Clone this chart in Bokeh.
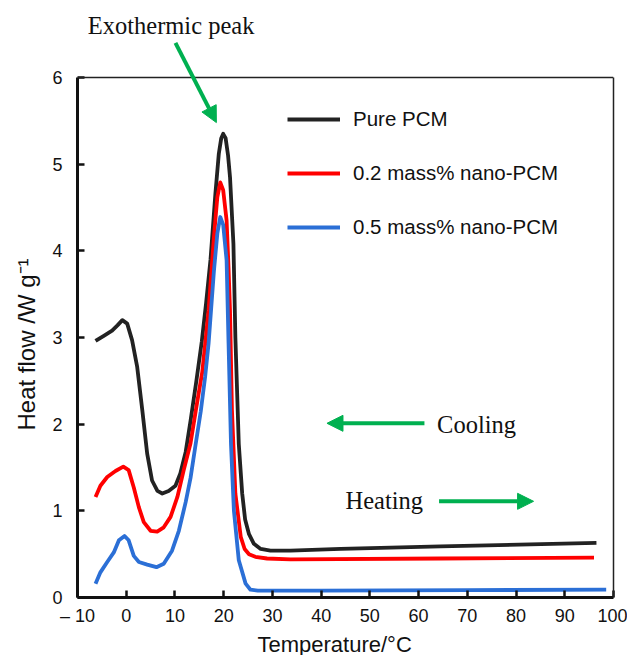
from bokeh.plotting import figure
from bokeh.models import (Range1d, FixedTicker, Legend, LegendItem, Label, Arrow, NormalHead,
                          LinearAxis, Span, Title)
from bokeh.embed import file_html
from bokeh.resources import INLINE

# ---------------- data ----------------
series_names = ["Pure PCM", "0.2 mass% nano-PCM", "0.5 mass% nano-PCM"]

pure_t = [-6.3, -4.6, -2.9, -1.8, -0.8, 0.2, 1.2, 2.25, 3.3, 4.3, 5.3, 6.4, 7.4, 8.7,
          10.1, 11.1, 12.2, 13.2, 14.4, 15.5, 16.4, 17.3, 18.3, 19.0, 19.5, 19.9, 20.4,
          20.9, 21.3, 22.0, 22.4, 23.1, 23.8, 24.4, 25.2, 26.2, 27.6, 29.6, 33.7, 44.0,
          64.5, 96.5]
pure_h = [2.96, 3.02, 3.08, 3.14, 3.20, 3.16, 2.97, 2.66, 2.16, 1.66, 1.35, 1.23, 1.20, 1.23,
          1.29, 1.43, 1.68, 2.04, 2.50, 2.95, 3.40, 3.90, 4.66, 5.12, 5.30, 5.35, 5.30,
          5.10, 4.85, 4.08, 3.00, 1.77, 1.20, 0.90, 0.73, 0.62, 0.56, 0.54, 0.54, 0.56,
          0.59, 0.63]

nano02_t = [-6.3, -5.3, -3.9, -2.2, -0.6, 0.5, 1.55, 2.6, 3.6, 5.0, 6.35, 7.7, 9.1, 10.5,
            11.8, 13.2, 14.4, 15.6, 16.9, 18.0, 18.7, 19.3, 19.9, 20.6, 21.0, 21.3, 21.7,
            22.4, 23.5, 24.3, 25.2, 26.5, 28.9, 33.7, 64.5, 96.0]
nano02_h = [1.16, 1.29, 1.39, 1.46, 1.51, 1.47, 1.27, 1.04, 0.87, 0.77, 0.76, 0.81, 0.93, 1.16,
            1.47, 1.78, 2.20, 2.60, 3.31, 4.16, 4.62, 4.79, 4.70, 4.35, 3.80, 3.31, 2.16,
            1.20, 0.70, 0.56, 0.50, 0.47, 0.45, 0.44, 0.45, 0.46]

nano05_t = [-6.3, -5.3, -3.9, -2.55, -1.5, -0.35, 0.5, 1.55, 2.6, 4.3, 6.2, 7.7, 9.4, 10.8,
            12.2, 13.2, 14.2, 15.3, 16.2, 16.9, 18.0, 18.7, 19.3, 19.9, 20.6, 21.0, 21.5,
            22.1, 23.1, 24.5, 25.5, 27.0, 40.0, 70.0, 98.5]
nano05_h = [0.16, 0.29, 0.41, 0.52, 0.66, 0.71, 0.66, 0.48, 0.41, 0.38, 0.35, 0.39, 0.54, 0.77,
            1.10, 1.38, 1.75, 2.15, 2.55, 2.93, 3.77, 4.20, 4.39, 4.30, 3.89, 2.93, 1.77,
            1.00, 0.43, 0.16, 0.09, 0.08, 0.08, 0.085, 0.09]

x_ticks = [-10, 0, 10, 20, 30, 40, 50, 60, 70, 80, 90, 100]
y_ticks = [0, 1, 2, 3, 4, 5, 6]
x_tick_overrides = {-10: "\u2013 10"}
x_label = "Temperature/\u00b0C"
y_label = "Heat flow /W g\u207b\u00b9"

# annotation anchors (data units)
exo_text_xy = (-7.9, 6.60)
exo_arrow = (10.1, 6.40, 18.5, 5.48)
cool_text_xy = (63.8, 2.00)
cool_arrow = (61.2, 2.01, 41.2, 2.01)
heat_text_xy = (45.0, 1.12)
heat_arrow = (64.2, 1.11, 83.6, 1.11)

# ---------------- styling ----------------
colors = ["#222222", "#FF0000", "#2B6FD6"]
green = "#00B050"
axis_color = "#111111"
sans = "Liberation Sans"
serif = "Liberation Serif"

# the frame reaches the top of the canvas so that the annotation above the box
# is not clipped; the visible box is drawn by the axes (bounded to 0..6) and a span
frame_h = 597
y_top = 6 * frame_h / 520.0

p = figure(frame_width=536, frame_height=frame_h,
           x_range=Range1d(x_ticks[0], x_ticks[-1]), y_range=Range1d(0, y_top),
           output_backend="svg", toolbar_location=None,
           min_border_left=77, min_border_right=14, min_border_top=0, min_border_bottom=58)
p.grid.visible = False
p.outline_line_color = None
p.background_fill_color = "white"
p.border_fill_color = "white"

p.xaxis.ticker = FixedTicker(ticks=x_ticks)
p.yaxis.ticker = FixedTicker(ticks=y_ticks)
p.yaxis.bounds = (y_ticks[0], y_ticks[-1])
p.xaxis.major_label_overrides = x_tick_overrides

for ax in (p.xaxis[0], p.yaxis[0]):
    ax.axis_line_width = 3
    ax.axis_line_color = axis_color
    ax.major_tick_in = 7
    ax.major_tick_out = 0
    ax.major_tick_line_width = 2.5
    ax.major_tick_line_color = axis_color
    ax.minor_tick_line_color = None
    ax.major_label_text_font = sans
    ax.major_label_text_font_size = "18px"
    ax.major_label_text_color = axis_color

p.xaxis.major_label_standoff = 8
p.yaxis.major_label_standoff = 15

# axis titles (placed as side titles so they can sit where the reference has them)
p.add_layout(Title(text=y_label, align="left", offset=167, standoff=20,
                   text_font=sans, text_font_size="24px", text_font_style="normal",
                   text_color=axis_color), "left")
p.add_layout(Title(text=x_label, align="left", offset=180, standoff=2,
                   text_font=sans, text_font_size="22px", text_font_style="normal",
                   text_color=axis_color), "below")

# right and top edges of the box
right_edge = LinearAxis(ticker=FixedTicker(ticks=[]), bounds=(y_ticks[0], y_ticks[-1]),
                        axis_line_width=1.5, axis_line_color="#222222",
                        major_tick_line_color=None, minor_tick_line_color=None,
                        major_label_text_font_size="0px")
p.add_layout(right_edge, "right")
p.add_layout(Span(location=y_ticks[-1], dimension="width", line_color="#222222",
                  line_width=1.5))

r1 = p.line(pure_t, pure_h, line_color=colors[0], line_width=3.8, line_join="round")
r2 = p.line(nano02_t, nano02_h, line_color=colors[1], line_width=3.8, line_join="round")
r3 = p.line(nano05_t, nano05_h, line_color=colors[2], line_width=3.8, line_join="round")

legend = Legend(items=[LegendItem(label=series_names[0], renderers=[r1]),
                       LegendItem(label=series_names[1], renderers=[r2]),
                       LegendItem(label=series_names[2], renderers=[r3])],
                location=(210, 358), orientation="vertical",
                glyph_width=53, glyph_height=24, label_height=24, label_standoff=13,
                spacing=30, padding=0, margin=0,
                border_line_color=None, background_fill_alpha=0,
                label_text_font=sans, label_text_font_size="20.5px",
                label_text_color=axis_color)
p.add_layout(legend)

def add_arrow(coords):
    xs, ys, xe, ye = coords
    p.add_layout(Arrow(x_start=xs, y_start=ys, x_end=xe, y_end=ye,
                       line_color=green, line_width=4,
                       end=NormalHead(size=16, fill_color=green, line_color=green, line_width=1)))

add_arrow(exo_arrow)
add_arrow(cool_arrow)
add_arrow(heat_arrow)

for (tx, ty), txt in ((exo_text_xy, "Exothermic peak"), (cool_text_xy, "Cooling"),
                      (heat_text_xy, "Heating")):
    p.add_layout(Label(x=tx, y=ty, text=txt, text_font=serif, text_font_size="24.5px",
                       text_baseline="middle", text_align="left", text_color=axis_color))

open("out.html", "w").write(file_html(p, INLINE))
